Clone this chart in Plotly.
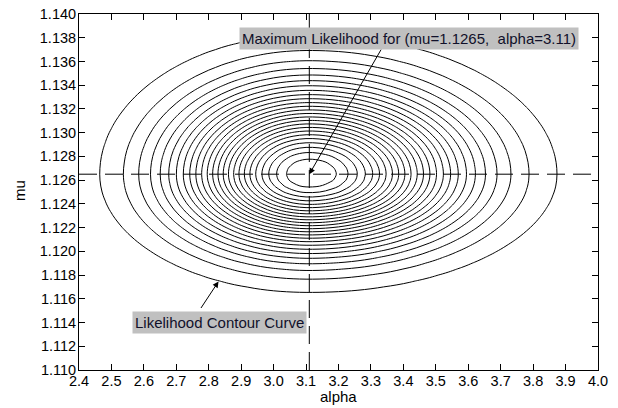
import numpy as np
import plotly.graph_objects as go

# ---- data ----
alpha_ticks = [2.4, 2.5, 2.6, 2.7, 2.8, 2.9, 3.0, 3.1, 3.2, 3.3, 3.4, 3.5, 3.6, 3.7, 3.8, 3.9, 4.0]
mu_ticks = [1.110, 1.112, 1.114, 1.116, 1.118, 1.120, 1.122, 1.124, 1.126, 1.128,
            1.130, 1.132, 1.134, 1.136, 1.138, 1.140]
alpha_hat = 3.11          # maximum likelihood alpha
mu_hat = 1.1265           # maximum likelihood mu
# spread of the likelihood surface on each side of the maximum (read from ring extents)
sigma_alpha_left = 0.253
sigma_alpha_right = 0.299
sigma_mu_below = 0.00390
sigma_mu_above = 0.00460
n_levels = 26             # contour levels at k/26 of the peak likelihood

alpha_grid = np.linspace(2.4, 4.0, 81)
mu_grid = np.linspace(1.110, 1.140, 61)
A, M = np.meshgrid(alpha_grid, mu_grid)
sa = np.where(A < alpha_hat, sigma_alpha_left, sigma_alpha_right)
sm = np.where(M < mu_hat, sigma_mu_below, sigma_mu_above)
L = np.exp(-0.5 * (((A - alpha_hat) / sa) ** 2 + ((M - mu_hat) / sm) ** 2))

fig = go.Figure()
fig.add_trace(go.Contour(
    x=alpha_grid, y=mu_grid, z=L,
    contours=dict(coloring="lines", start=1 / n_levels, end=(n_levels - 0.5) / n_levels,
                  size=1 / n_levels, showlabels=False),
    colorscale=[[0, "black"], [1, "black"]],
    line=dict(width=1, color="black"),
    showscale=False, hoverinfo="skip",
))

# page geometry: the browser body adds an 8px margin around the figure
OFF = 8
W, H = 610, 400
# plot area in page pixels: left 79, right 598, top 14, bottom 370
PL, PR, PT, PB = 79, 598, 14, 370
ML, MR, MT, MB = PL - OFF, W + OFF - PR, PT - OFF, H + OFF - PB
XR = (2.4, 4.0)
YR = (1.110, 1.140)


def px2x(px):
    return XR[0] + (px - PL) / (PR - PL) * (XR[1] - XR[0])


def py2y(py):
    return YR[1] - (py - PT) / (PB - PT) * (YR[1] - YR[0])


def px2paper(px):
    return (px - PL) / (PR - PL)


def py2paper(py):
    return (PB - py) / (PB - PT)


dash = "18px,8px"
fig.add_shape(type="line", xref="x", yref="paper", x0=alpha_hat, x1=alpha_hat, y0=0, y1=1,
              line=dict(color="black", width=1, dash=dash))
fig.add_shape(type="line", xref="paper", yref="y", x0=0, x1=1, y0=mu_hat, y1=mu_hat,
              line=dict(color="black", width=1, dash=dash))

tick_font = dict(family="Liberation Sans, Arial, sans-serif", size=14.5, color="black")
text_font = dict(family="Liberation Sans, Arial, sans-serif", size=15, color="#10102a")
title_font = dict(family="Liberation Sans, Arial, sans-serif", size=15, color="black")

# arrows (no text)
fig.add_annotation(x=alpha_hat, y=mu_hat, ax=px2x(382), ay=py2y(48), axref="x", ayref="y",
                   xref="x", yref="y", text="", showarrow=True, arrowhead=2, arrowsize=1.2,
                   arrowwidth=1, arrowcolor="black")
fig.add_annotation(x=px2x(218.5), y=py2y(281.5), ax=px2x(200), ay=py2y(309.5), axref="x", ayref="y",
                   xref="x", yref="y", text="", showarrow=True, arrowhead=2, arrowsize=1.2,
                   arrowwidth=1, arrowcolor="black")
# text boxes
fig.add_annotation(x=px2x(409), y=py2y(38.8), xref="x", yref="y", showarrow=False,
                   text="Maximum Likelihood for (mu=1.1265,  alpha=3.11)",
                   bgcolor="#c0c0c0", borderpad=2, font=text_font, xanchor="center", yanchor="middle")
fig.add_annotation(x=px2x(219.8), y=py2y(322.8), xref="x", yref="y", showarrow=False,
                   text="Likelihood Contour Curve",
                   bgcolor="#c0c0c0", borderpad=2, font=text_font, xanchor="center", yanchor="middle")

# axis titles
fig.add_annotation(x=px2paper(338), y=py2paper(397), xref="paper", yref="paper", showarrow=False,
                   text="alpha", font=title_font, xanchor="center", yanchor="middle")
fig.add_annotation(x=px2paper(19), y=py2paper(191), xref="paper", yref="paper", showarrow=False,
                   text="mu", font=title_font, textangle=-90, xanchor="center", yanchor="middle")

axis_common = dict(showline=True, linecolor="black", linewidth=1, mirror="ticks",
                   ticks="inside", ticklen=6, tickcolor="black", showgrid=False,
                   zeroline=False, tickfont=tick_font, automargin=False,
                   ticklabeloverflow="allow")
fig.update_xaxes(range=list(XR), tickvals=alpha_ticks, ticktext=[f"{v:.1f}" for v in alpha_ticks],
                 ticklabelstandoff=-2, **axis_common)
fig.update_yaxes(range=list(YR), tickvals=mu_ticks, ticktext=[f"{v:.3f}" for v in mu_ticks],
                 ticklabelstandoff=-1, **axis_common)

fig.update_layout(width=W, height=H, margin=dict(l=ML, r=MR, t=MT, b=MB, autoexpand=False),
                  paper_bgcolor="white", plot_bgcolor="white", showlegend=False)

fig.write_html("out.html")
